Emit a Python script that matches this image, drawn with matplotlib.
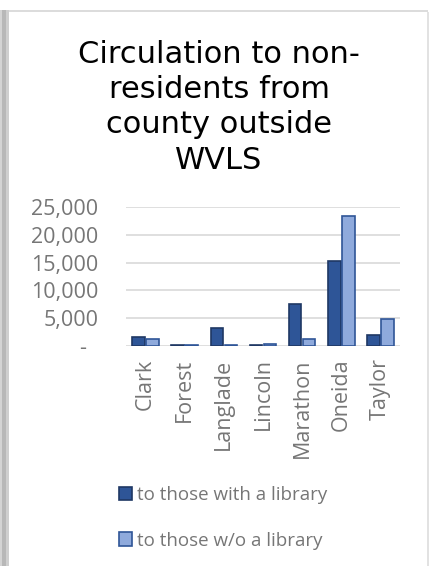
import matplotlib.pyplot as plt
import matplotlib.patches as mpatches
import numpy as np

# -----------------------------------------
# Data
# -----------------------------------------
counties = ["Clark", "Forest", "Langlade", "Lincoln", "Marathon", "Oneida", "Taylor"]
with_library = [1700, 200, 3200, 200, 7600, 15350, 2000]
without_library = [1300, 250, 100, 400, 1300, 23400, 4900]

yticks = [0, 5000, 10000, 15000, 20000, 25000]
ytick_labels = ["-  ", "5,000", "10,000", "15,000", "20,000", "25,000"]

title = "Circulation to non-\nresidents from\ncounty outside\nWVLS"
series_names = ["to those with a library", "to those w/o a library"]

# Colours
dark_fill, dark_edge = "#2E5597", "#1F3864"
light_fill, light_edge = "#8FAADC", "#2F5597"
text_grey = "#767676"

W, H = 429, 566
fig = plt.figure(figsize=(W / 100, H / 100), dpi=100)

# -----------------------------------------
# Panel frame (shadow on the left, thin lines on top/right)
# -----------------------------------------
for x0, x1, c in [(0, 2, "#d4d4d4"), (2, 6, "#b8b8b8"), (6, 9, "#cfcfcf")]:
    fig.patches.append(mpatches.Rectangle(
        (x0 / W, 0), (x1 - x0) / W, 1 - 10 / H,
        transform=fig.transFigure, color=c, lw=0))
fig.patches.append(mpatches.Rectangle(
    (9 / W, 1 - 12 / H), (428 - 9) / W, 2 / H,
    transform=fig.transFigure, color="#dcdcdc", lw=0))
fig.patches.append(mpatches.Rectangle(
    (427 / W, 0), 1.5 / W, 1 - 12 / H,
    transform=fig.transFigure, color="#e2e2e2", lw=0))

# -----------------------------------------
# Title
# -----------------------------------------
fig.text(219 / W, 1 - 40 / H, title, ha="center", va="top",
         fontsize=22, family="DejaVu Sans", color="black",
         linespacing=1.27)

# -----------------------------------------
# Bars
# -----------------------------------------
ax = fig.add_axes([126 / W, 1 - 346 / H, 274 / W, 139 / H])
x = np.arange(len(counties))
w = 0.32
ax.bar(x - 0.18, with_library, w, color=dark_fill, edgecolor=dark_edge,
       linewidth=1.2, label=series_names[0], zorder=3)
ax.bar(x + 0.18, without_library, w, color=light_fill, edgecolor=light_edge,
       linewidth=1.2, label=series_names[1], zorder=3)

ax.set_xlim(-0.5, len(counties) - 0.5)
ax.set_ylim(0, 25000)
ax.set_yticks(yticks)
ax.set_yticklabels(ytick_labels, family="Open Sans", fontsize=15.5,
                   color=text_grey)
ax.set_xticks(x)
ax.set_xticklabels(counties, rotation=90, family="Open Sans",
                   fontsize=15.5, color=text_grey, va="top")
ax.tick_params(length=0)
ax.tick_params(axis="y", pad=20)
ax.tick_params(axis="x", pad=9)
ax.grid(axis="y", color="#d9d9d9", linewidth=1.2, zorder=0)
for s in ax.spines.values():
    s.set_visible(False)

# -----------------------------------------
# Legend
# -----------------------------------------
leg = fig.legend(loc="center", bbox_to_anchor=(223 / W, 1 - 518 / H),
                 frameon=False, ncol=1, handlelength=0.7, handleheight=0.7,
                 handletextpad=0.3, labelspacing=1.45,
                 prop={"family": "Open Sans", "size": 13.5})
for t in leg.get_texts():
    t.set_color(text_grey)

fig.savefig("out.png", dpi=100)
